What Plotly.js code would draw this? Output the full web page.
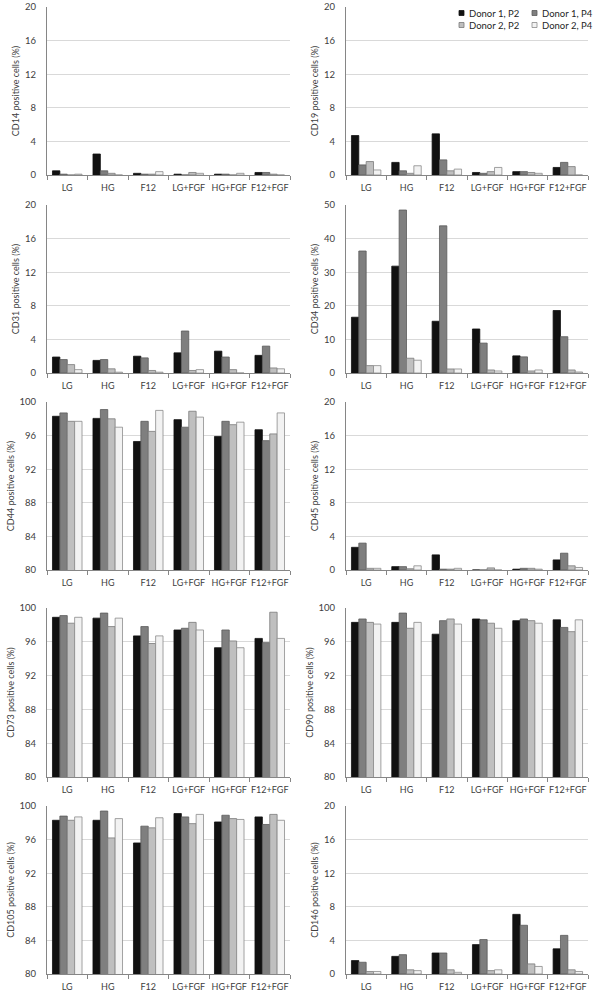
<!DOCTYPE html>
<html>
<head>
<meta charset="utf-8">
<script src="https://cdn.plot.ly/plotly-3.0.1.min.js"></script>
<style>html,body{margin:0;padding:0;background:#fff;}#chart{width:600px;height:993px;}</style>
</head>
<body>
<div id="chart"></div>
<script>
// ---- data ----
const categories = ['LG', 'HG', 'F12', 'LG+FGF', 'HG+FGF', 'F12+FGF'];
const seriesNames = ['Donor 1, P2', 'Donor 1, P4', 'Donor 2, P2', 'Donor 2, P4'];
const markers = ['CD14', 'CD19', 'CD31', 'CD34', 'CD44', 'CD45', 'CD73', 'CD90', 'CD105', 'CD146'];

// each panel: rows = series (Donor 1 P2, Donor 1 P4, Donor 2 P2, Donor 2 P4), columns = categories
const CD14 = [
  [0.5, 2.5, 0.2, 0.1, 0.1, 0.3],
  [0.1, 0.5, 0.1, 0.0, 0.1, 0.3],
  [0.0, 0.2, 0.1, 0.3, 0.0, 0.1],
  [0.1, 0.0, 0.4, 0.2, 0.2, 0.0]
];
const CD19 = [
  [4.7, 1.5, 4.9, 0.3, 0.4, 0.9],
  [1.2, 0.5, 1.8, 0.2, 0.4, 1.5],
  [1.6, 0.2, 0.5, 0.4, 0.3, 1.0],
  [0.6, 1.1, 0.7, 0.9, 0.2, 0.0]
];
const CD31 = [
  [1.9, 1.5, 2.0, 2.4, 2.6, 2.1],
  [1.6, 1.6, 1.8, 5.0, 1.9, 3.2],
  [1.0, 0.5, 0.3, 0.3, 0.4, 0.6],
  [0.4, 0.1, 0.1, 0.4, 0.0, 0.5]
];
const CD34 = [
  [16.6, 31.8, 15.4, 13.1, 5.1, 18.6],
  [36.3, 48.5, 43.8, 8.9, 4.8, 10.8],
  [2.2, 4.4, 1.2, 0.9, 0.6, 0.9],
  [2.2, 3.8, 1.2, 0.6, 0.9, 0.3]
];
const CD44 = [
  [98.3, 98.05, 95.3, 97.9, 95.9, 96.7],
  [98.7, 99.1, 97.7, 97.0, 97.7, 95.4],
  [97.7, 98.0, 96.5, 98.9, 97.3, 96.2],
  [97.7, 97.0, 99.0, 98.2, 97.6, 98.7]
];
const CD45 = [
  [2.7, 0.4, 1.8, 0.0, 0.1, 1.2],
  [3.2, 0.4, 0.1, 0.0, 0.2, 2.0],
  [0.2, 0.15, 0.1, 0.25, 0.2, 0.5],
  [0.2, 0.5, 0.2, 0.0, 0.1, 0.3]
];
const CD73 = [
  [98.9, 98.8, 96.7, 97.4, 95.3, 96.4],
  [99.1, 99.4, 97.8, 97.6, 97.4, 95.9],
  [98.2, 97.8, 95.8, 98.3, 96.1, 99.5],
  [98.9, 98.8, 96.7, 97.4, 95.3, 96.4]
];
const CD90 = [
  [98.3, 98.3, 96.9, 98.7, 98.5, 98.6],
  [98.7, 99.4, 98.5, 98.6, 98.7, 97.7],
  [98.3, 97.6, 98.7, 98.2, 98.5, 97.2],
  [98.1, 98.3, 98.1, 97.6, 98.2, 98.6]
];
const CD105 = [
  [98.3, 98.3, 95.6, 99.1, 98.1, 98.7],
  [98.8, 99.4, 97.6, 98.7, 98.9, 97.8],
  [98.3, 96.2, 97.4, 97.9, 98.5, 99.0],
  [98.7, 98.5, 98.6, 99.0, 98.4, 98.3]
];
const CD146 = [
  [1.6, 2.1, 2.5, 3.5, 7.1, 3.0],
  [1.4, 2.3, 2.5, 4.1, 5.8, 4.6],
  [0.3, 0.5, 0.5, 0.4, 1.2, 0.5],
  [0.3, 0.4, 0.2, 0.5, 0.9, 0.3]
];
const panelValues = [CD14, CD19, CD31, CD34, CD44, CD45, CD73, CD90, CD105, CD146];
const yRanges = [[0, 20], [0, 20], [0, 20], [0, 50], [80, 100], [0, 20], [80, 100], [80, 100], [80, 100], [0, 20]];
const yDticks = [4, 4, 4, 10, 4, 4, 4, 4, 4, 4];

// ---- styling ----
const W = 600, H = 993;
const fillColors = ['#111111', '#7f7f7f', '#bfbfbf', '#f2f2f2'];
const lineColors = ['#111111', '#5a5a5a', '#7a7a7a', '#8a8a8a'];
const FONT = 'Lato, "Open Sans", sans-serif';
const textColor = '#404040';

const colX = [[47, 290], [346, 588]];
const rowY = [[7, 175], [205, 373], [402, 570], [608, 777], [806, 974]];

const traces = [];
const layout = {
  width: W, height: H,
  margin: {l: 0, r: 0, t: 0, b: 0},
  paper_bgcolor: '#ffffff', plot_bgcolor: '#ffffff',
  barmode: 'group', bargap: 0.27, bargroupgap: 0,
  showlegend: false,
  font: {family: FONT, size: 9, color: textColor},
  shapes: [], annotations: []
};

markers.forEach((m, p) => {
  const idx = p === 0 ? '' : String(p + 1);
  const col = p % 2, row = Math.floor(p / 2);
  const xd = [colX[col][0] / W, colX[col][1] / W];
  const yd = [1 - rowY[row][1] / H, 1 - rowY[row][0] / H];
  panelValues[p].forEach((vals, s) => {
    traces.push({
      type: 'bar', x: categories, y: vals, name: seriesNames[s],
      xaxis: 'x' + idx, yaxis: 'y' + idx,
      marker: {color: fillColors[s], line: {color: lineColors[s], width: 0.8}},
      hoverinfo: 'x+y+name'
    });
  });
  layout['xaxis' + idx] = {
    domain: xd, anchor: 'y' + idx, type: 'category',
    showline: true, linecolor: '#868686', linewidth: 1,
    ticks: 'outside', ticklen: 4, tickcolor: '#868686', tickson: 'boundaries',
    tickangle: 0, automargin: false, ticklabelstandoff: 4,
    showgrid: false, zeroline: false, fixedrange: true,
    tickfont: {family: FONT, size: 9, color: textColor}
  };
  layout['yaxis' + idx] = {
    domain: yd, anchor: 'x' + idx, range: yRanges[p], dtick: yDticks[p], tick0: 0,
    showline: true, linecolor: '#868686', linewidth: 1,
    showgrid: true, gridcolor: '#d9d9d9', gridwidth: 1, zeroline: false,
    ticks: '', ticklabelstandoff: 8, fixedrange: true, automargin: false,
    tickfont: {family: FONT, size: 9.5, color: textColor},
    title: {text: m + ' positive cells (%)', font: {family: FONT, size: 9, color: textColor}, standoff: 3}
  };
});

// legend (drawn as small keys above the CD19 panel)
const legendPos = [[459, 13], [532, 13], [459, 25], [532, 25]];
seriesNames.forEach((n, s) => {
  const [lx, ly] = legendPos[s];
  layout.shapes.push({
    type: 'rect', xref: 'paper', yref: 'paper',
    x0: lx / W, x1: (lx + 5) / W, y0: 1 - (ly + 2.5) / H, y1: 1 - (ly - 2.5) / H,
    fillcolor: fillColors[s], line: {color: lineColors[s], width: 0.8}
  });
  layout.annotations.push({
    xref: 'paper', yref: 'paper', x: (lx + 8) / W, y: 1 - ly / H,
    xanchor: 'left', yanchor: 'middle', showarrow: false, text: n,
    font: {family: FONT, size: 9.5, color: '#262626'}
  });
});

Plotly.newPlot('chart', traces, layout, {displayModeBar: false, staticPlot: true});
</script>
</body>
</html>
